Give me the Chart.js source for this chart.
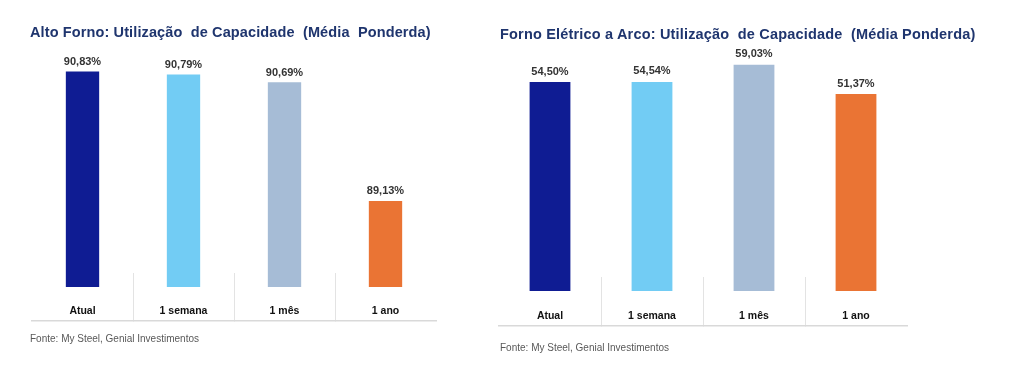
<!DOCTYPE html>
<html>
<head>
<meta charset="utf-8">
<script src="https://cdn.jsdelivr.net/npm/chart.js@4.4.1/dist/chart.umd.min.js"></script>
<style>
  html, body { margin:0; padding:0; background:#fff; }
  body { width:1024px; height:383px; position:relative; overflow:hidden; font-family:"Liberation Sans", Arial, sans-serif; }
  .box { position:absolute; top:0; height:383px; }
  .title { position:absolute; font-weight:bold; font-size:14.5px; letter-spacing:0.12px; color:#1F356E; white-space:pre; line-height:16px; }
  .src { position:absolute; font-size:10px; color:#595959; white-space:pre; line-height:12px; }
</style>
</head>
<body>
<div class="box" style="left:0;width:480px;"><canvas id="c1" width="480" height="383"></canvas></div>
<div class="box" style="left:480px;width:544px;"><canvas id="c2" width="544" height="383"></canvas></div>
<div class="title" style="left:30px;top:24px;">Alto Forno: Utilização  de Capacidade  (Média  Ponderda)</div>
<div class="title" style="left:500px;top:26px;letter-spacing:0.18px;">Forno Elétrico a Arco: Utilização  de Capacidade  (Média Ponderda)</div>
<div class="src" style="left:30px;top:333px;">Fonte: My Steel, Genial Investimentos</div>
<div class="src" style="left:500px;top:342px;">Fonte: My Steel, Genial Investimentos</div>
<script>
const categories = ["Atual", "1 semana", "1 mês", "1 ano"];
const altoFornoValues = [90.83, 90.79, 90.69, 89.13];
const fornoEletricoValues = [54.50, 54.54, 59.03, 51.37];
const barColors = ["#0F1C93", "#72CCF4", "#A6BCD6", "#EA7434"];

function fmt(v) { return v.toFixed(2).replace('.', ',') + '%'; }

const valueLabels = {
  id: 'valueLabels',
  afterDatasetsDraw(chart, args, opts) {
    const ctx = chart.ctx;
    const meta = chart.getDatasetMeta(0);
    const data = chart.data.datasets[0].data;
    ctx.save();
    ctx.font = 'bold 11px "Liberation Sans", Arial, sans-serif';
    ctx.fillStyle = '#333333';
    ctx.textAlign = 'center';
    ctx.textBaseline = 'middle';
    meta.data.forEach((bar, i) => {
      ctx.fillText(fmt(data[i]), bar.x, bar.y - opts.offset);
    });
    ctx.restore();
  }
};

function makeChart(id, values, cfg) {
  return new Chart(document.getElementById(id), {
    type: 'bar',
    data: {
      labels: categories,
      datasets: [{
        data: values,
        backgroundColor: barColors,
        base: cfg.base,
        barPercentage: cfg.barPct,
        categoryPercentage: 1.0
      }]
    },
    options: {
      responsive: false,
      animation: false,
      events: [],
      layout: { padding: { left: cfg.left, right: cfg.right, top: cfg.top, bottom: cfg.bottom } },
      plugins: {
        legend: { display: false },
        tooltip: { enabled: false },
        valueLabels: { offset: cfg.labelOffset }
      },
      scales: {
        y: {
          display: false,
          min: cfg.min,
          max: cfg.max
        },
        x: {
          afterFit: (s) => { s.height = 40; },
          border: { display: true, color: '#D9D9D9', width: 1.5 },
          grid: {
            display: true,
            offset: true,
            drawOnChartArea: false,
            drawTicks: true,
            tickLength: cfg.tickLen,
            lineWidth: 1,
            color: (c) => (c.type !== 'tick' || c.index === 0) ? 'rgba(0,0,0,0)' : '#E3E3E3'
          },
          ticks: {
            mirror: true,
            padding: cfg.pad,
            color: '#111111',
            font: { family: '"Liberation Sans", Arial, sans-serif', size: 10.5, weight: 'bold' },
            maxRotation: 0,
            autoSkip: false
          }
        }
      }
    },
    plugins: [valueLabels]
  });
}

// chart 1: area x 32-436, y 51-321
makeChart('c1', altoFornoValues, {
  base: 88, min: 87.5535, max: 91.099, barPct: 0.33,
  left: 32, right: 480 - 436, top: 51, bottom: 383 - 321 - 40,
  tickLen: -48, pad: 4, labelOffset: 9.5
});
// chart 2: area x 19-427 (canvas offset 480), y 50-326
makeChart('c2', fornoEletricoValues, {
  base: 0, min: -9.131, max: 62.87, barPct: 0.40,
  left: 19, right: 544 - 427, top: 50, bottom: 383 - 326 - 40,
  tickLen: -49, pad: 4, labelOffset: 10.5
});
</script>
</body>
</html>
